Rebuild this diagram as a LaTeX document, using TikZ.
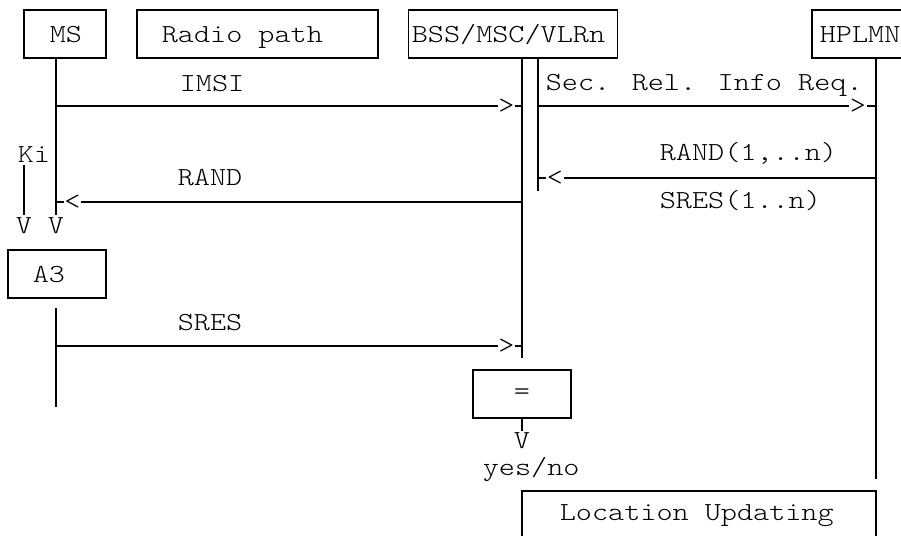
\documentclass[tikz,border=0pt]{standalone}
\usepackage{fontspec}
\newfontfamily\courlike{Latin Modern Mono Light}[FakeStretch=1.18]
\begin{document}
\begin{tikzpicture}[x=1pt,y=-1pt,line width=1.7pt,
  box/.style={draw,inner sep=0pt,minimum height=48pt},
  txt/.style={inner sep=0pt,font=\courlike\fontsize{26}{30}\selectfont},
  lbl/.style={txt,anchor=base west},
  tipc/.style={txt,anchor=center},
  vtip/.style={txt,anchor=north}]
\useasboundingbox (0,0) rectangle (901,535);
\clip (0,0) rectangle (901,535);
\fill[white] (0,0) rectangle (901,535);
% header boxes
\node[box,minimum width=82pt] (ms) at (65,34) {};
\node[box,minimum width=241pt] (radio) at (257.5,34) {};
\node[box,minimum width=209pt] (bss) at (513,34) {};
\node[box,minimum width=160pt] (hplmn) at (892,34) {};
\node[lbl] (msT) at (49,42) {MS};
\node[lbl] (radioT) at (161,42) {Radio path};
\node[lbl] (bssT) at (411,42) {BSS/MSC/VLRn};
\node[lbl] (hplmnT) at (819,42) {HPLMN};
% lifeline coordinates
\coordinate (msA) at (56,58);  \coordinate (msB) at (56,215);
\coordinate (msC) at (56,308); \coordinate (msD) at (56,407);
\coordinate (bssA) at (522,58); \coordinate (bssB) at (522,358);
\coordinate (bssC) at (538,58); \coordinate (bssD) at (538,191);
\coordinate (hpA) at (876,58);  \coordinate (hpB) at (876,479);
\draw (msA) -- (msB);
\draw (msC) -- (msD);
\draw (bssA) -- (bssB);
\draw (bssC) -- (bssD);
\draw (hpA) -- (hpB);
% IMSI
\node[lbl] (imsiT) at (179,91) {IMSI};
\coordinate (imsiS) at (56,106); \coordinate (imsiE) at (522,106);
\node[tipc] (imsiG) at (506.5,106) {>};
\draw (imsiS) -- (imsiG.west);
\draw (imsiG.east) -- (imsiE);
% Sec. Rel. Info Req.
\node[lbl] (secT) at (545,90) {Sec. Rel. Info Req.};
\coordinate (secS) at (538,106); \coordinate (secE) at (876,106);
\node[tipc] (secG) at (858,106) {>};
\draw (secS) -- (secG.west);
\draw (secG.east) -- (secE);
% RAND(1,..n) / SRES(1..n)
\node[lbl] (rand1T) at (659,160) {RAND(1,..n)};
\node[lbl] (sres1T) at (659,208) {SRES(1..n)};
\coordinate (r1S) at (876,178); \coordinate (r1E) at (538,178);
\node[tipc] (r1G) at (555,178) {<};
\draw (r1S) -- (r1G.east);
\draw (r1G.west) -- (r1E);
% RAND
\node[lbl] (randT) at (177,185) {RAND};
\coordinate (rS) at (522,202); \coordinate (rE) at (56,202);
\node[tipc] (rG) at (72.5,202) {<};
\draw (rS) -- (rG.east);
\draw (rG.west) -- (rE);
% Ki
\node[lbl] (kiT) at (17,162) {Ki};
\coordinate (kiA) at (24,165); \coordinate (kiB) at (24,215);
\draw (kiA) -- (kiB);
\node[vtip] (kiV) at (24,217) {V};
\node[vtip] (msV) at (56,217) {V};
% A3
\node[box,minimum width=98pt] (a3) at (57,274) {};
\node[lbl] (a3T) at (32,282) {A3};
% SRES
\node[lbl] (sresT) at (177,330) {SRES};
\coordinate (sS) at (56,346); \coordinate (sE) at (522,346);
\node[tipc] (sG) at (506.5,346) {>};
\draw (sS) -- (sG.west);
\draw (sG.east) -- (sE);
% compare
\node[box,minimum width=98pt] (eq) at (522,394) {};
\node[txt] (eqT) at (522,394) {=};
\coordinate (eqV) at (522,431);
\draw (eq.south) -- (eqV);
\node[vtip] (eqG) at (522,432) {V};
\node[lbl] (ynT) at (482,475) {yes/no};
% Location Updating
\coordinate (luA) at (522,560); \coordinate (luB) at (522,491);
\coordinate (luC) at (876,491); \coordinate (luD) at (876,560);
\draw (luA) -- (luB) -- (luC) -- (luD);
\node[lbl] (luT) at (559,520) {Location Updating};
\end{tikzpicture}
\end{document}
